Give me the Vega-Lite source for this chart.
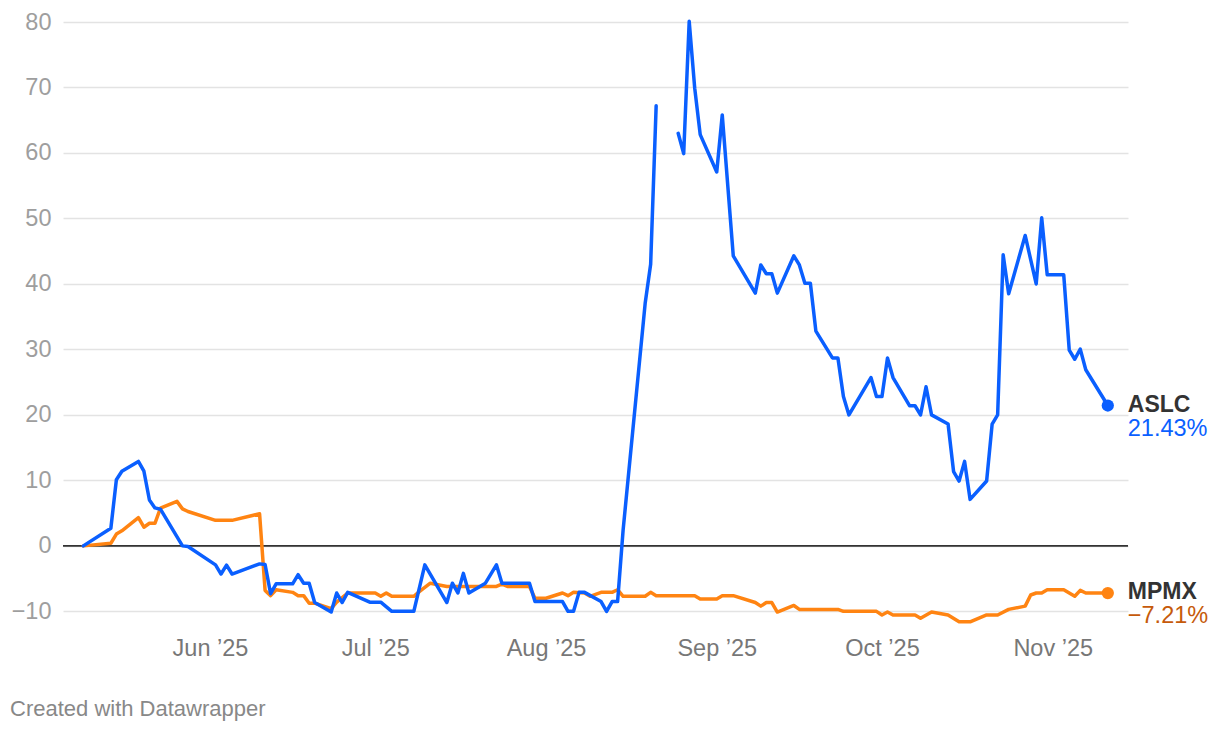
{
  "$schema": "https://vega.github.io/schema/vega-lite/v6.json",
  "width": 1065,
  "height": 609,
  "autosize": {"type": "none"},
  "padding": {"left": 63, "top": 22, "right": 92, "bottom": 99},
  "background": "white",
  "config": {"view": {"stroke": null}, "font": "Liberation Sans"},
  "title": {"text": "Created with Datawrapper", "orient": "bottom", "anchor": "start", "frame": "group", "dx": -53, "offset": 39, "fontSize": 22, "fontWeight": "normal", "color": "#888888", "font": "Liberation Sans"},
  "datasets": {
    "series": [
      {"d": "2025-05-09", "s": "ASLC", "v": 0},
      {"d": "2025-05-14", "s": "ASLC", "v": 2.7},
      {"d": "2025-05-15", "s": "ASLC", "v": 10.1},
      {"d": "2025-05-16", "s": "ASLC", "v": 11.4},
      {"d": "2025-05-19", "s": "ASLC", "v": 12.9},
      {"d": "2025-05-20", "s": "ASLC", "v": 11.4},
      {"d": "2025-05-21", "s": "ASLC", "v": 7.0},
      {"d": "2025-05-22", "s": "ASLC", "v": 5.8},
      {"d": "2025-05-23", "s": "ASLC", "v": 5.6},
      {"d": "2025-05-27", "s": "ASLC", "v": 0.0},
      {"d": "2025-05-28", "s": "ASLC", "v": -0.1},
      {"d": "2025-06-02", "s": "ASLC", "v": -2.9},
      {"d": "2025-06-03", "s": "ASLC", "v": -4.3},
      {"d": "2025-06-04", "s": "ASLC", "v": -2.95},
      {"d": "2025-06-05", "s": "ASLC", "v": -4.3},
      {"d": "2025-06-10", "s": "ASLC", "v": -2.75},
      {"d": "2025-06-11", "s": "ASLC", "v": -2.85},
      {"d": "2025-06-12", "s": "ASLC", "v": -7.3},
      {"d": "2025-06-13", "s": "ASLC", "v": -5.8},
      {"d": "2025-06-16", "s": "ASLC", "v": -5.8},
      {"d": "2025-06-17", "s": "ASLC", "v": -4.4},
      {"d": "2025-06-18", "s": "ASLC", "v": -5.7},
      {"d": "2025-06-19", "s": "ASLC", "v": -5.7},
      {"d": "2025-06-20", "s": "ASLC", "v": -8.65},
      {"d": "2025-06-23", "s": "ASLC", "v": -10.1},
      {"d": "2025-06-24", "s": "ASLC", "v": -7.2},
      {"d": "2025-06-25", "s": "ASLC", "v": -8.65},
      {"d": "2025-06-26", "s": "ASLC", "v": -7.1},
      {"d": "2025-06-30", "s": "ASLC", "v": -8.6},
      {"d": "2025-07-02", "s": "ASLC", "v": -8.6},
      {"d": "2025-07-04", "s": "ASLC", "v": -10.0},
      {"d": "2025-07-08", "s": "ASLC", "v": -10.0},
      {"d": "2025-07-10", "s": "ASLC", "v": -2.9},
      {"d": "2025-07-14", "s": "ASLC", "v": -8.65},
      {"d": "2025-07-15", "s": "ASLC", "v": -5.7},
      {"d": "2025-07-16", "s": "ASLC", "v": -7.2},
      {"d": "2025-07-17", "s": "ASLC", "v": -4.2},
      {"d": "2025-07-18", "s": "ASLC", "v": -7.2},
      {"d": "2025-07-21", "s": "ASLC", "v": -5.7},
      {"d": "2025-07-23", "s": "ASLC", "v": -2.9},
      {"d": "2025-07-24", "s": "ASLC", "v": -5.7},
      {"d": "2025-07-29", "s": "ASLC", "v": -5.7},
      {"d": "2025-07-30", "s": "ASLC", "v": -8.5},
      {"d": "2025-08-04", "s": "ASLC", "v": -8.5},
      {"d": "2025-08-05", "s": "ASLC", "v": -10.0},
      {"d": "2025-08-06", "s": "ASLC", "v": -10.0},
      {"d": "2025-08-07", "s": "ASLC", "v": -7.1},
      {"d": "2025-08-08", "s": "ASLC", "v": -7.1},
      {"d": "2025-08-11", "s": "ASLC", "v": -8.5},
      {"d": "2025-08-12", "s": "ASLC", "v": -10.0},
      {"d": "2025-08-13", "s": "ASLC", "v": -8.5},
      {"d": "2025-08-14", "s": "ASLC", "v": -8.5},
      {"d": "2025-08-15", "s": "ASLC", "v": 2.4},
      {"d": "2025-08-19", "s": "ASLC", "v": 37.0},
      {"d": "2025-08-20", "s": "ASLC", "v": 43.0},
      {"d": "2025-08-21", "s": "ASLC", "v": 67.2},
      {"d": "2025-08-22", "s": "ASLC", "v": null},
      {"d": "2025-08-25", "s": "ASLC", "v": 63.0},
      {"d": "2025-08-26", "s": "ASLC", "v": 59.9},
      {"d": "2025-08-27", "s": "ASLC", "v": 80.1},
      {"d": "2025-08-28", "s": "ASLC", "v": 69.9},
      {"d": "2025-08-29", "s": "ASLC", "v": 62.8},
      {"d": "2025-09-01", "s": "ASLC", "v": 57.1},
      {"d": "2025-09-02", "s": "ASLC", "v": 65.8},
      {"d": "2025-09-04", "s": "ASLC", "v": 44.3},
      {"d": "2025-09-08", "s": "ASLC", "v": 38.6},
      {"d": "2025-09-09", "s": "ASLC", "v": 42.9},
      {"d": "2025-09-10", "s": "ASLC", "v": 41.55},
      {"d": "2025-09-11", "s": "ASLC", "v": 41.55},
      {"d": "2025-09-12", "s": "ASLC", "v": 38.6},
      {"d": "2025-09-15", "s": "ASLC", "v": 44.3},
      {"d": "2025-09-16", "s": "ASLC", "v": 42.9},
      {"d": "2025-09-17", "s": "ASLC", "v": 40.1},
      {"d": "2025-09-18", "s": "ASLC", "v": 40.1},
      {"d": "2025-09-19", "s": "ASLC", "v": 32.8},
      {"d": "2025-09-22", "s": "ASLC", "v": 28.7},
      {"d": "2025-09-23", "s": "ASLC", "v": 28.7},
      {"d": "2025-09-24", "s": "ASLC", "v": 22.8},
      {"d": "2025-09-25", "s": "ASLC", "v": 20.0},
      {"d": "2025-09-29", "s": "ASLC", "v": 25.7},
      {"d": "2025-09-30", "s": "ASLC", "v": 22.8},
      {"d": "2025-10-01", "s": "ASLC", "v": 22.8},
      {"d": "2025-10-02", "s": "ASLC", "v": 28.7},
      {"d": "2025-10-03", "s": "ASLC", "v": 25.7},
      {"d": "2025-10-06", "s": "ASLC", "v": 21.4},
      {"d": "2025-10-07", "s": "ASLC", "v": 21.4},
      {"d": "2025-10-08", "s": "ASLC", "v": 20.0},
      {"d": "2025-10-09", "s": "ASLC", "v": 24.3},
      {"d": "2025-10-10", "s": "ASLC", "v": 20.0},
      {"d": "2025-10-13", "s": "ASLC", "v": 18.6},
      {"d": "2025-10-14", "s": "ASLC", "v": 11.35},
      {"d": "2025-10-15", "s": "ASLC", "v": 9.9},
      {"d": "2025-10-16", "s": "ASLC", "v": 12.9},
      {"d": "2025-10-17", "s": "ASLC", "v": 7.1},
      {"d": "2025-10-20", "s": "ASLC", "v": 9.9},
      {"d": "2025-10-21", "s": "ASLC", "v": 18.6},
      {"d": "2025-10-22", "s": "ASLC", "v": 20.0},
      {"d": "2025-10-23", "s": "ASLC", "v": 44.45},
      {"d": "2025-10-24", "s": "ASLC", "v": 38.5},
      {"d": "2025-10-27", "s": "ASLC", "v": 47.4},
      {"d": "2025-10-29", "s": "ASLC", "v": 40.0},
      {"d": "2025-10-30", "s": "ASLC", "v": 50.1},
      {"d": "2025-10-31", "s": "ASLC", "v": 41.4},
      {"d": "2025-11-03", "s": "ASLC", "v": 41.4},
      {"d": "2025-11-04", "s": "ASLC", "v": 29.9},
      {"d": "2025-11-05", "s": "ASLC", "v": 28.5},
      {"d": "2025-11-06", "s": "ASLC", "v": 30.05},
      {"d": "2025-11-07", "s": "ASLC", "v": 26.9},
      {"d": "2025-11-11", "s": "ASLC", "v": 21.43},
      {"d": "2025-05-09", "s": "MPMX", "v": 0},
      {"d": "2025-05-14", "s": "MPMX", "v": 0.4},
      {"d": "2025-05-15", "s": "MPMX", "v": 1.8},
      {"d": "2025-05-16", "s": "MPMX", "v": 2.3},
      {"d": "2025-05-19", "s": "MPMX", "v": 4.3},
      {"d": "2025-05-20", "s": "MPMX", "v": 2.85},
      {"d": "2025-05-21", "s": "MPMX", "v": 3.45},
      {"d": "2025-05-22", "s": "MPMX", "v": 3.45},
      {"d": "2025-05-23", "s": "MPMX", "v": 5.75},
      {"d": "2025-05-26", "s": "MPMX", "v": 6.8},
      {"d": "2025-05-27", "s": "MPMX", "v": 5.65},
      {"d": "2025-05-28", "s": "MPMX", "v": 5.25},
      {"d": "2025-06-02", "s": "MPMX", "v": 3.9},
      {"d": "2025-06-05", "s": "MPMX", "v": 3.9},
      {"d": "2025-06-10", "s": "MPMX", "v": 4.9},
      {"d": "2025-06-11", "s": "MPMX", "v": -6.8},
      {"d": "2025-06-12", "s": "MPMX", "v": -7.6},
      {"d": "2025-06-13", "s": "MPMX", "v": -6.7},
      {"d": "2025-06-16", "s": "MPMX", "v": -7.1},
      {"d": "2025-06-17", "s": "MPMX", "v": -7.6},
      {"d": "2025-06-18", "s": "MPMX", "v": -7.6},
      {"d": "2025-06-19", "s": "MPMX", "v": -8.75},
      {"d": "2025-06-20", "s": "MPMX", "v": -8.75},
      {"d": "2025-06-23", "s": "MPMX", "v": -9.6},
      {"d": "2025-06-24", "s": "MPMX", "v": -8.6},
      {"d": "2025-06-26", "s": "MPMX", "v": -7.2},
      {"d": "2025-07-01", "s": "MPMX", "v": -7.2},
      {"d": "2025-07-02", "s": "MPMX", "v": -7.7},
      {"d": "2025-07-03", "s": "MPMX", "v": -7.2},
      {"d": "2025-07-04", "s": "MPMX", "v": -7.7},
      {"d": "2025-07-08", "s": "MPMX", "v": -7.7},
      {"d": "2025-07-09", "s": "MPMX", "v": -7.0},
      {"d": "2025-07-11", "s": "MPMX", "v": -5.7},
      {"d": "2025-07-14", "s": "MPMX", "v": -6.2},
      {"d": "2025-07-23", "s": "MPMX", "v": -6.2},
      {"d": "2025-07-24", "s": "MPMX", "v": -5.85},
      {"d": "2025-07-25", "s": "MPMX", "v": -6.2},
      {"d": "2025-07-29", "s": "MPMX", "v": -6.2},
      {"d": "2025-07-30", "s": "MPMX", "v": -8.0},
      {"d": "2025-08-01", "s": "MPMX", "v": -8.0},
      {"d": "2025-08-04", "s": "MPMX", "v": -7.2},
      {"d": "2025-08-05", "s": "MPMX", "v": -7.6},
      {"d": "2025-08-06", "s": "MPMX", "v": -7.1},
      {"d": "2025-08-08", "s": "MPMX", "v": -7.2},
      {"d": "2025-08-09", "s": "MPMX", "v": -7.7},
      {"d": "2025-08-11", "s": "MPMX", "v": -7.1},
      {"d": "2025-08-13", "s": "MPMX", "v": -7.1},
      {"d": "2025-08-14", "s": "MPMX", "v": -6.7},
      {"d": "2025-08-15", "s": "MPMX", "v": -7.7},
      {"d": "2025-08-19", "s": "MPMX", "v": -7.7},
      {"d": "2025-08-20", "s": "MPMX", "v": -7.1},
      {"d": "2025-08-21", "s": "MPMX", "v": -7.6},
      {"d": "2025-08-28", "s": "MPMX", "v": -7.6},
      {"d": "2025-08-29", "s": "MPMX", "v": -8.1},
      {"d": "2025-09-01", "s": "MPMX", "v": -8.1},
      {"d": "2025-09-02", "s": "MPMX", "v": -7.6},
      {"d": "2025-09-04", "s": "MPMX", "v": -7.6},
      {"d": "2025-09-08", "s": "MPMX", "v": -8.65},
      {"d": "2025-09-09", "s": "MPMX", "v": -9.2},
      {"d": "2025-09-10", "s": "MPMX", "v": -8.65},
      {"d": "2025-09-11", "s": "MPMX", "v": -8.65},
      {"d": "2025-09-12", "s": "MPMX", "v": -10.1},
      {"d": "2025-09-15", "s": "MPMX", "v": -9.1},
      {"d": "2025-09-16", "s": "MPMX", "v": -9.7},
      {"d": "2025-09-23", "s": "MPMX", "v": -9.7},
      {"d": "2025-09-24", "s": "MPMX", "v": -10.0},
      {"d": "2025-09-30", "s": "MPMX", "v": -10.0},
      {"d": "2025-10-01", "s": "MPMX", "v": -10.55},
      {"d": "2025-10-02", "s": "MPMX", "v": -10.1},
      {"d": "2025-10-03", "s": "MPMX", "v": -10.55},
      {"d": "2025-10-07", "s": "MPMX", "v": -10.55},
      {"d": "2025-10-08", "s": "MPMX", "v": -11.05},
      {"d": "2025-10-10", "s": "MPMX", "v": -10.1},
      {"d": "2025-10-13", "s": "MPMX", "v": -10.55},
      {"d": "2025-10-15", "s": "MPMX", "v": -11.6},
      {"d": "2025-10-17", "s": "MPMX", "v": -11.6},
      {"d": "2025-10-20", "s": "MPMX", "v": -10.55},
      {"d": "2025-10-22", "s": "MPMX", "v": -10.55},
      {"d": "2025-10-24", "s": "MPMX", "v": -9.7},
      {"d": "2025-10-27", "s": "MPMX", "v": -9.2},
      {"d": "2025-10-28", "s": "MPMX", "v": -7.5},
      {"d": "2025-10-29", "s": "MPMX", "v": -7.2},
      {"d": "2025-10-30", "s": "MPMX", "v": -7.2},
      {"d": "2025-10-31", "s": "MPMX", "v": -6.7},
      {"d": "2025-11-03", "s": "MPMX", "v": -6.7},
      {"d": "2025-11-05", "s": "MPMX", "v": -7.7},
      {"d": "2025-11-06", "s": "MPMX", "v": -6.8},
      {"d": "2025-11-07", "s": "MPMX", "v": -7.2},
      {"d": "2025-11-11", "s": "MPMX", "v": -7.21}
    ],
    "ends": [
      {"d": "2025-11-11", "s": "ASLC", "v": 21.43, "label": "21.43%"},
      {"d": "2025-11-11", "s": "MPMX", "v": -7.21, "label": "−7.21%"}
    ]
  },
  "layer": [
    {
      "data": {"values": [{"v": 0}]},
      "mark": {"type": "rule", "color": "#333333", "strokeWidth": 1.6},
      "encoding": {
        "y": {"field": "v", "type": "quantitative", "scale": {"domain": [-13, 80], "nice": false, "zero": false}}
      }
    },
    {
      "data": {"name": "series"},
      "transform": [{"filter": "datum.s === 'MPMX'"}],
      "mark": {"type": "line", "color": "#ff8412", "strokeWidth": 3.5, "strokeJoin": "round", "strokeCap": "round"},
      "encoding": {
        "x": {
          "field": "d", "type": "temporal",
          "scale": {"type": "utc", "nice": false, "domain": [{"year": 2025, "month": 5, "date": 5, "hours": 7, "minutes": 25, "utc": true}, {"year": 2025, "month": 11, "date": 14, "hours": 16, "utc": true}]},
          "axis": {
            "title": null, "grid": false, "domain": false, "ticks": false, "tickSize": 0,
            "values": [
              {"year": 2025, "month": 6, "date": 1, "utc": true},
              {"year": 2025, "month": 7, "date": 1, "utc": true},
              {"year": 2025, "month": 8, "date": 1, "utc": true},
              {"year": 2025, "month": 9, "date": 1, "utc": true},
              {"year": 2025, "month": 10, "date": 1, "utc": true},
              {"year": 2025, "month": 11, "date": 1, "utc": true}
            ],
            "format": "%b ’%y", "labelFontSize": 23.5, "labelColor": "#777777", "labelPadding": 5, "labelFont": "Liberation Sans", "labelFlush": false, "labelOverlap": false
          }
        },
        "y": {
          "field": "v", "type": "quantitative",
          "scale": {"domain": [-13, 80], "nice": false, "zero": false},
          "axis": {
            "title": null, "domain": false, "ticks": false, "tickSize": 0,
            "values": [-10, 0, 10, 20, 30, 40, 50, 60, 70, 80],
            "grid": true, "gridColor": "#e3e3e3", "gridWidth": 1.5,
            "labelFontSize": 23.5, "labelColor": "#9e9e9e", "labelPadding": 12, "labelFont": "Liberation Sans", "labelFlush": false
          }
        }
      }
    },
    {
      "data": {"name": "series"},
      "transform": [{"filter": "datum.s === 'ASLC'"}],
      "mark": {"type": "line", "color": "#0a5fff", "strokeWidth": 3.5, "strokeJoin": "round", "strokeCap": "round"},
      "encoding": {
        "x": {"field": "d", "type": "temporal"},
        "y": {"field": "v", "type": "quantitative"}
      }
    },
    {
      "data": {"name": "ends"},
      "mark": {"type": "circle", "size": 150, "opacity": 1},
      "encoding": {
        "x": {"field": "d", "type": "temporal"},
        "y": {"field": "v", "type": "quantitative"},
        "color": {"field": "s", "type": "nominal", "scale": {"domain": ["ASLC", "MPMX"], "range": ["#0a5fff", "#ff8412"]}, "legend": null}
      }
    },
    {
      "data": {"name": "ends"},
      "mark": {"type": "text", "align": "left", "baseline": "alphabetic", "dx": 20, "dy": 6, "fontSize": 23, "fontWeight": "bold", "color": "#333333", "font": "Liberation Sans"},
      "encoding": {
        "x": {"field": "d", "type": "temporal"},
        "y": {"field": "v", "type": "quantitative"},
        "text": {"field": "s", "type": "nominal"}
      }
    },
    {
      "data": {"name": "ends"},
      "mark": {"type": "text", "align": "left", "baseline": "alphabetic", "dx": 20, "dy": 30, "fontSize": 23.5, "font": "Liberation Sans"},
      "encoding": {
        "x": {"field": "d", "type": "temporal"},
        "y": {"field": "v", "type": "quantitative"},
        "text": {"field": "label", "type": "nominal"},
        "fill": {"field": "s", "type": "nominal", "scale": {"domain": ["ASLC", "MPMX"], "range": ["#0a5fff", "#c65a0a"]}, "legend": null}
      }
    }
  ],
  "resolve": {"scale": {"color": "independent", "fill": "independent"}}
}
